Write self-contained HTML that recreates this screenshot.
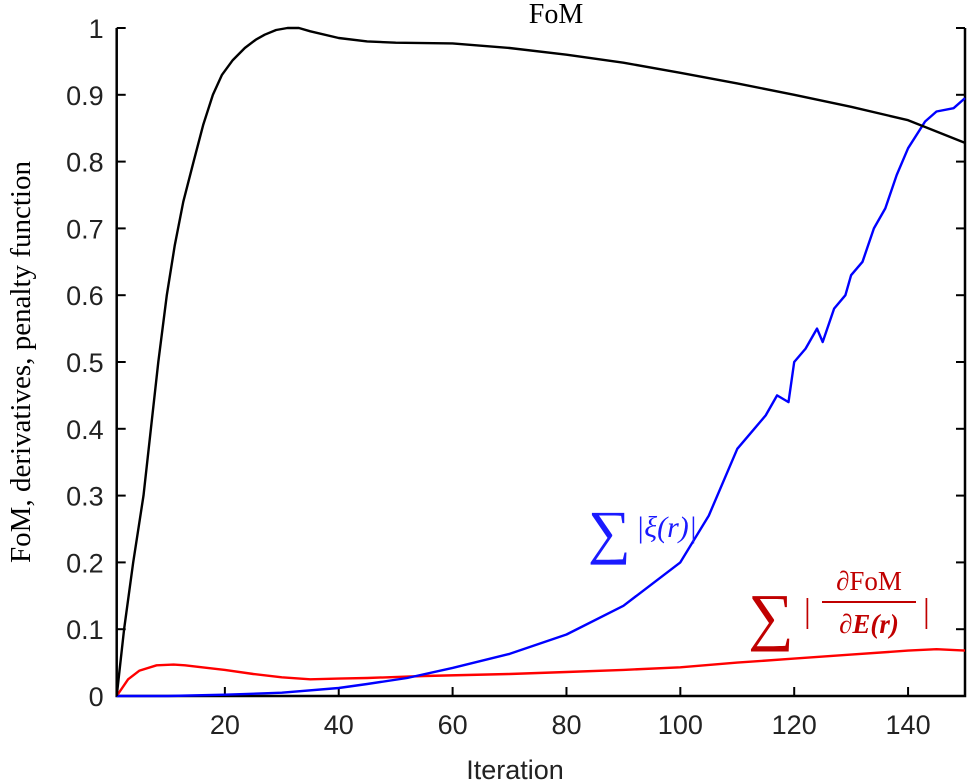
<!DOCTYPE html>
<html><head><meta charset="utf-8"><style>
html,body{margin:0;padding:0;background:#fff;}
svg{display:block;}
text{font-family:"Liberation Sans",sans-serif;}
.serif{font-family:"Liberation Serif",serif;}
</style></head><body>
<svg id="chart" width="971" height="782" viewBox="0 0 971 782">
<g id="axes"></g>
<g id="series"></g>
<text class="serif" x="556" y="23" font-size="28" text-anchor="middle">FoM</text>
<text x="515" y="779" font-size="27" text-anchor="middle" fill="#222">Iteration</text>
<text class="serif" transform="translate(30,362) rotate(-90)" font-size="29" text-anchor="middle">FoM, derivatives, penalty function</text>
<g fill="#1a1aff">
<text class="serif" x="588" y="552" font-size="60">∑</text>
<text class="serif" x="636" y="537" font-size="30" font-style="italic">|ξ(r)|</text>
</g>
<g fill="#c00000">
<text class="serif" x="748" y="638" font-size="64">∑</text>
<text class="serif" x="804" y="622" font-size="34">|</text>
<text class="serif" x="869" y="590" font-size="27" text-anchor="middle">∂FoM</text>
<rect x="822" y="601" width="94" height="2" fill="#c00000"/>
<text class="serif" x="869" y="633" font-size="27" text-anchor="middle" font-weight="bold" font-style="italic">∂E(r)</text>
<text class="serif" x="923" y="622" font-size="34">|</text>
</g>
</svg>
<script>
const xTicks=[20,40,60,80,100,120,140];
const yTicks=[0,0.1,0.2,0.3,0.4,0.5,0.6,0.7,0.8,0.9,1];
const yTickLabels=["0","0.1","0.2","0.3","0.4","0.5","0.6","0.7","0.8","0.9","1"];
const fomX=[1,2.3,3.9,5.7,7,8.3,9.8,11.2,12.7,14.5,16.2,17.9,19.5,21.4,23.5,25.5,27,29,31,33,35,40,45,50,60,70,80,90,100,110,120,130,140,150];
const fomY=[0,0.1,0.2,0.3,0.4,0.5,0.6,0.675,0.74,0.8,0.855,0.9,0.93,0.952,0.97,0.983,0.99,0.997,1.0,1.0,0.995,0.985,0.98,0.978,0.977,0.97,0.96,0.948,0.933,0.917,0.9,0.882,0.862,0.828];
const xiX=[1,10,20,30,40,45,52,60,70,80,90,100,105,110,113,115,117,119,120,122,124,125,127,129,130,132,134,136,138,140,143,145,148,150];
const xiY=[0,0,0.002,0.005,0.012,0.018,0.027,0.042,0.063,0.092,0.135,0.2,0.27,0.37,0.4,0.42,0.45,0.44,0.5,0.52,0.55,0.53,0.58,0.6,0.63,0.65,0.7,0.73,0.78,0.82,0.86,0.875,0.88,0.895];
const redX=[1,3,5,8,11,13,16,20,25,30,35,40,45,55,70,80,90,100,110,120,130,140,145,150];
const redY=[0,0.025,0.038,0.046,0.047,0.046,0.043,0.039,0.033,0.028,0.025,0.026,0.027,0.03,0.033,0.036,0.039,0.043,0.05,0.056,0.062,0.068,0.07,0.068];
const X0=116.7,X1=965,Y0=696,Y1=28;
function sx(v){return X0+(v-1)/(149)*(X1-X0);}
function sy(v){return Y0-v*(Y0-Y1);}
const NS="http://www.w3.org/2000/svg";
const ax=document.getElementById('axes');
function mk(tag,attrs,parent){const e=document.createElementNS(NS,tag);for(const k in attrs)e.setAttribute(k,attrs[k]);parent.appendChild(e);return e;}
const frame=mk('path',{d:`M${X0},${Y1} V${Y0} H${X1} V${Y1}`,fill:'none',stroke:'#000','stroke-width':2.5},ax);


xTicks.forEach(t=>{
  const l=mk('line',{x1:sx(t),x2:sx(t),y1:Y0,y2:Y0-9,stroke:'#000','stroke-width':2},ax);
  
  
  const tx=mk('text',{x:sx(t),y:Y0+38,'font-size':27,'text-anchor':'middle',fill:'#222'},ax);
  tx.textContent=t;
  
  
});
yTicks.forEach((t,i)=>{
  const l=mk('line',{x1:X0,x2:X0+9,y1:sy(t),y2:sy(t),stroke:'#000','stroke-width':2},ax);
  
  
  const r=mk('line',{x1:X1,x2:X1-9,y1:sy(t),y2:sy(t),stroke:'#000','stroke-width':2},ax);
  
  
  const tx=mk('text',{x:X0-13,y:sy(t)+10,'font-size':27,'text-anchor':'end',fill:'#222'},ax);
  tx.textContent=yTickLabels[i];
  
  
});
const sg=document.getElementById('series');
function line(xs,ys,color,name){
  const d=xs.map((x,i)=>(i?'L':'M')+sx(x).toFixed(1)+','+sy(ys[i]).toFixed(1)).join(' ');
  const p=mk('path',{d:d,fill:'none',stroke:color,'stroke-width':2.4,'stroke-linejoin':'round'},sg);
  
  
}
line(redX,redY,'#ff0000','derivative-line');
line(xiX,xiY,'#0000ff','penalty-line');
line(fomX,fomY,'#000000','fom-line');
</script>
</body></html>
